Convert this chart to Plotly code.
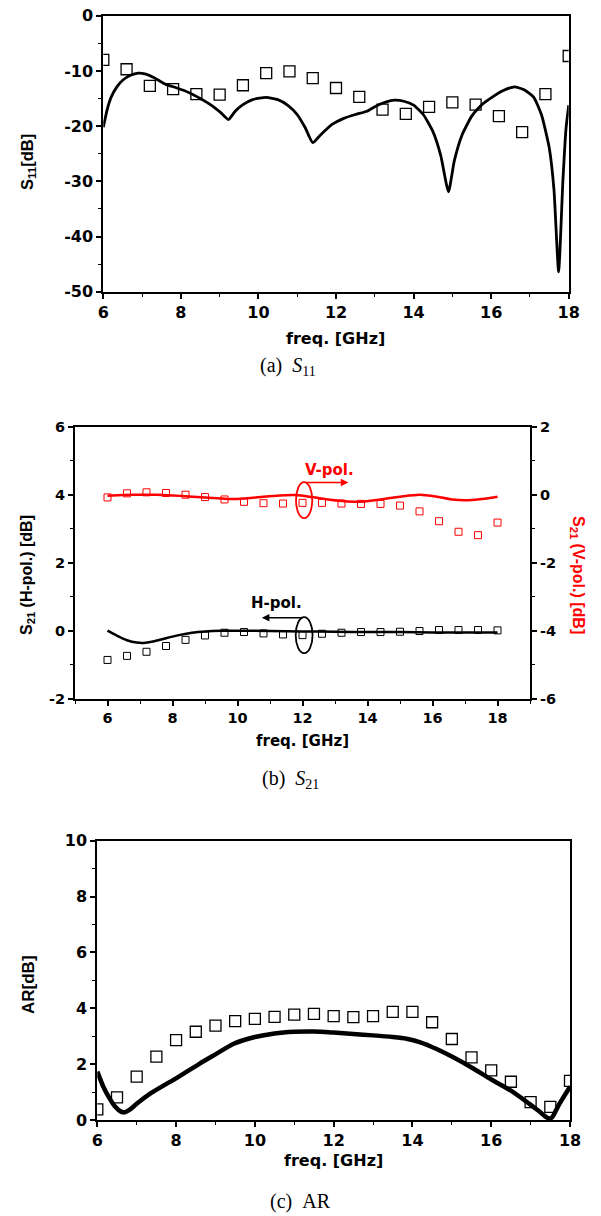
import plotly.graph_objects as go

# ---------------- (a) S11 ----------------
s11_sim_f = [6.0, 6.1, 6.2, 6.35, 6.5, 6.7, 6.9, 7.1, 7.3, 7.6, 7.9, 8.2, 8.5, 8.8, 9.05, 9.23,
             9.4, 9.6, 9.85, 10.2, 10.5, 10.75, 11.0, 11.2, 11.4, 11.6, 11.9, 12.2, 12.5, 12.8,
             13.05, 13.3, 13.5, 13.75, 14.0, 14.25, 14.5, 14.7, 14.9, 15.05, 15.25, 15.5, 15.75,
             16.0, 16.3, 16.6, 16.85, 17.1, 17.3, 17.5, 17.62, 17.74, 17.85, 17.93, 18.0]
s11_sim = [-20.2, -17.0, -14.8, -12.9, -11.7, -10.8, -10.4, -10.6, -11.2, -12.4, -13.1, -13.9,
           -15.0, -16.3, -17.7, -18.8, -17.3, -16.1, -15.2, -14.8, -15.2, -16.2, -17.9, -20.2,
           -23.0, -21.6, -19.7, -18.6, -17.9, -17.3, -16.3, -15.6, -15.3, -15.5, -16.2, -17.9,
           -21.0, -25.3, -31.9, -26.3, -21.6, -18.2, -16.2, -14.9, -13.6, -12.9, -13.4, -14.8,
           -18.0, -24.0, -31.5, -46.4, -30.0, -20.5, -16.2]
s11_meas_f = [6.0, 6.6, 7.2, 7.8, 8.4, 9.0, 9.6, 10.2, 10.8, 11.4, 12.0, 12.6, 13.2, 13.8, 14.4,
              15.0, 15.6, 16.2, 16.8, 17.4, 18.0]
s11_meas = [-8.0, -9.7, -12.7, -13.3, -14.2, -14.3, -12.6, -10.4, -10.1, -11.3, -13.1, -14.7,
            -17.0, -17.8, -16.5, -15.7, -16.1, -18.2, -21.1, -14.2, -7.3]
s11_yticks = [0, -10, -20, -30, -40, -50]
s11_ytick_text = ["0", "-10", "-20", "-30", "-40", "-50"]

# ---------------- (b) S21 ----------------
s21h_sim_f = [6.0, 6.3, 6.6, 6.9, 7.1, 7.4, 7.8, 8.2, 8.6, 9.0, 9.5, 10.0, 11.0, 12.0, 13.0,
              14.0, 15.0, 16.0, 17.0, 18.0]
s21h_sim = [0.0, -0.15, -0.28, -0.35, -0.36, -0.32, -0.22, -0.13, -0.06, -0.02, 0.0, 0.0,
            -0.01, -0.02, -0.03, -0.04, -0.04, -0.05, -0.05, -0.05]
s21_meas_f = [6.0, 6.6, 7.2, 7.8, 8.4, 9.0, 9.6, 10.2, 10.8, 11.4, 12.0, 12.6, 13.2, 13.8,
              14.4, 15.0, 15.6, 16.2, 16.8, 17.4, 18.0]
s21h_meas = [-0.86, -0.74, -0.62, -0.45, -0.27, -0.14, -0.06, -0.04, -0.08, -0.11, -0.13,
             -0.09, -0.06, -0.04, -0.04, -0.03, -0.01, 0.02, 0.02, 0.02, 0.01]
s21v_sim_f = [6.0, 6.5, 7.0, 7.5, 8.0, 8.5, 9.0, 9.5, 9.9, 10.4, 10.8, 11.3, 11.8, 12.3, 12.85,
              13.4, 13.9, 14.4, 15.0, 15.6, 16.1, 16.6, 17.1, 17.6, 18.0]
s21v_sim = [-0.03, -0.01, 0.0, 0.0, -0.02, -0.05, -0.08, -0.11, -0.13, -0.10, -0.06, -0.02,
            -0.01, -0.07, -0.15, -0.20, -0.20, -0.14, -0.06, 0.0, -0.05, -0.14, -0.16, -0.12,
            -0.06]
s21v_meas = [-0.08, 0.04, 0.07, 0.05, 0.0, -0.07, -0.14, -0.21, -0.25, -0.26, -0.24, -0.24,
             -0.26, -0.27, -0.27, -0.32, -0.49, -0.78, -1.09, -1.19, -0.82]
s21_left_ticks = [6, 4, 2, 0, -2]
s21_left_text = ["6", "4", "2", "0", "-2"]
s21_right_ticks = [2, 0, -2, -4, -6]
s21_right_text = ["2", "0", "-2", "-4", "-6"]

# ---------------- (c) AR ----------------
ar_sim_f = [6.0, 6.15, 6.3, 6.45, 6.6, 6.7, 6.85, 7.0, 7.35, 7.7, 8.0, 8.6, 9.0, 9.45, 10.0,
            10.5, 11.0, 11.5, 12.0, 12.5, 13.0, 13.5, 13.85, 14.2, 14.6, 15.0, 15.5, 16.0,
            16.5, 16.9, 17.2, 17.45, 17.55, 17.7, 18.0]
ar_sim = [1.73, 1.2, 0.8, 0.48, 0.3, 0.28, 0.4, 0.58, 0.95, 1.25, 1.49, 2.02, 2.35, 2.72, 2.97,
          3.10, 3.16, 3.17, 3.13, 3.08, 3.03, 2.97, 2.91, 2.78, 2.55, 2.27, 1.88, 1.45, 1.05,
          0.65, 0.33, 0.06, 0.1, 0.5, 1.19]
ar_meas_f = [6.0, 6.5, 7.0, 7.5, 8.0, 8.5, 9.0, 9.5, 10.0, 10.5, 11.0, 11.5, 12.0, 12.5, 13.0,
             13.5, 14.0, 14.5, 15.0, 15.5, 16.0, 16.5, 17.0, 17.5, 18.0]
ar_meas = [0.38, 0.81, 1.55, 2.27, 2.86, 3.16, 3.38, 3.54, 3.62, 3.69, 3.77, 3.80, 3.72, 3.68,
           3.72, 3.87, 3.87, 3.50, 2.90, 2.24, 1.78, 1.37, 0.64, 0.47, 1.40]
ar_yticks = [0, 2, 4, 6, 8, 10]
ar_ytick_text = ["0", "2", "4", "6", "8", "10"]

freq_ticks = [6, 8, 10, 12, 14, 16, 18]
freq_tick_text = ["6", "8", "10", "12", "14", "16", "18"]

W, H = 601, 1216
RED = "#ff0000"
TICKFONT = dict(family="DejaVu Sans", size=16, color="black")
TICKFONT_B = dict(family="DejaVu Sans", size=14.5, color="black")


def bold(lst):
    return ["<b>%s</b>" % s for s in lst]


def px_x(p):
    return p / W


def px_y(p):
    return 1 - p / H


fig = go.Figure()

fig.add_trace(go.Scatter(x=s11_sim_f, y=s11_sim, mode="lines", xaxis="x", yaxis="y",
                         line=dict(color="black", width=2.8, shape="spline", smoothing=0.5)))
fig.add_trace(go.Scatter(x=s11_meas_f, y=s11_meas, mode="markers", xaxis="x", yaxis="y",
                         marker=dict(symbol="square-open", size=11, color="black",
                                     line=dict(width=1.3))))

fig.add_trace(go.Scatter(x=s21h_sim_f, y=s21h_sim, mode="lines", xaxis="x2", yaxis="y2",
                         line=dict(color="black", width=2.5, shape="spline", smoothing=0.8)))
fig.add_trace(go.Scatter(x=s21_meas_f, y=s21h_meas, mode="markers", xaxis="x2", yaxis="y2",
                         marker=dict(symbol="square-open", size=7, color="black",
                                     line=dict(width=1))))
fig.add_trace(go.Scatter(x=s21v_sim_f, y=s21v_sim, mode="lines", xaxis="x2", yaxis="y3",
                         line=dict(color=RED, width=2.5, shape="spline", smoothing=0.8)))
fig.add_trace(go.Scatter(x=s21_meas_f, y=s21v_meas, mode="markers", xaxis="x2", yaxis="y3",
                         marker=dict(symbol="square-open", size=7, color=RED,
                                     line=dict(width=1))))

fig.add_trace(go.Scatter(x=ar_sim_f, y=ar_sim, mode="lines", xaxis="x3", yaxis="y4",
                         line=dict(color="black", width=4.5, shape="spline", smoothing=0.6)))
fig.add_trace(go.Scatter(x=ar_meas_f, y=ar_meas, mode="markers", xaxis="x3", yaxis="y4",
                         marker=dict(symbol="square-open", size=11, color="black",
                                     line=dict(width=1.3))))

common = dict(showgrid=False, zeroline=False, showline=True, linecolor="black", linewidth=2,
              ticks="outside", tickcolor="black", tickwidth=1.5, ticklen=5, automargin=False,
              tickmode="array")
minor = lambda d: dict(dtick=d, ticks="outside", ticklen=3, tickcolor="black", tickwidth=1.2)

fig.update_layout(
    width=W, height=H, autosize=False, showlegend=False,
    paper_bgcolor="white", plot_bgcolor="white",
    margin=dict(l=0, r=0, t=0, b=0, pad=0),
    xaxis=dict(domain=[px_x(103.3), px_x(568.7)], anchor="y", range=[6, 18],
               tickvals=freq_ticks, ticktext=bold(freq_tick_text),
               minor=minor(1), mirror=True, tickfont=TICKFONT, **common),
    yaxis=dict(domain=[px_y(291.7), px_y(15.7)], anchor="x", range=[-50, 0],
               tickvals=s11_yticks, ticktext=bold(s11_ytick_text),
               minor=minor(5), mirror=True, tickfont=TICKFONT, **common),
    xaxis2=dict(domain=[px_x(75), px_x(530)], anchor="y2", range=[5, 19],
                tickvals=freq_ticks, ticktext=bold(freq_tick_text),
                minor=minor(1), mirror=True, tickfont=TICKFONT_B, **common),
    yaxis2=dict(domain=[px_y(698.7), px_y(426.7)], anchor="x2", range=[-2, 6],
                tickvals=s21_left_ticks, ticktext=bold(s21_left_text),
                minor=minor(1), tickfont=TICKFONT_B, **common),
    yaxis3=dict(overlaying="y2", side="right", anchor="x2", range=[-6, 2],
                tickvals=s21_right_ticks, ticktext=bold(s21_right_text),
                minor=minor(1), tickfont=TICKFONT_B, **common),
    xaxis4=dict(overlaying="x2", side="top", anchor="y2", range=[5, 19], dtick=1,
                showticklabels=False, showline=False, showgrid=False, zeroline=False,
                ticks="inside", ticklen=5, tickwidth=1.5, tickcolor="black", automargin=False),
    xaxis3=dict(domain=[px_x(97.3), px_x(570)], anchor="y4", range=[6, 18],
                tickvals=freq_ticks, ticktext=bold(freq_tick_text),
                minor=minor(1), mirror=True, tickfont=TICKFONT, **common),
    yaxis4=dict(domain=[px_y(1120), px_y(840.7)], anchor="x3", range=[0, 10],
                tickvals=ar_yticks, ticktext=bold(ar_ytick_text),
                minor=minor(1), mirror=True, tickfont=TICKFONT, **common),
)

BOLD = dict(family="DejaVu Sans", size=16, color="black")
ROT = dict(family="Liberation Sans", size=16.5, color="black")
CAP = dict(family="Liberation Serif", size=20, color="black")

ann = []


def text(x, y, t, font, angle=0):
    ann.append(dict(x=px_x(x), y=px_y(y), xref="paper", yref="paper", text=t, showarrow=False,
                    font=font, textangle=angle, xanchor="center", yanchor="middle"))


# axis titles
text(336, 338, "<b>freq. [GHz]</b>", BOLD)
text(302.5, 741, "<b>freq. [GHz]</b>", dict(BOLD, size=15))
text(334, 1160, "<b>freq. [GHz]</b>", BOLD)
text(28, 162, "<b>S<sub>11</sub>[dB]</b>", ROT, -90)
text(27, 575, "<b>S<sub>21</sub> (H-pol.) [dB]</b>", dict(ROT, size=16), -90)
text(578, 575, "<b>S<sub>21</sub> (V-pol.) [dB]</b>", dict(ROT, size=16, color=RED), 90)
text(28, 985, "<b>AR[dB]</b>", dict(ROT, size=17), -90)
# captions
text(288, 366, "(a)&nbsp;&nbsp;<i>S</i><sub>11</sub>", CAP)
text(290, 779, "(b)&nbsp;&nbsp;<i>S</i><sub>21</sub>", CAP)
text(300, 1201, "(c)&nbsp;&nbsp;AR", CAP)

# polarisation labels (data coordinates of panel b)
ann.append(dict(x=12.83, y=4.73, xref="x2", yref="y2", text="<b>V-pol.</b>", showarrow=False,
                font=dict(family="DejaVu Sans", size=15, color=RED)))
ann.append(dict(x=11.19, y=0.81, xref="x2", yref="y2", text="<b>H-pol.</b>", showarrow=False,
                font=dict(family="DejaVu Sans", size=15, color="black")))
ann.append(dict(x=13.41, y=4.36, ax=12.05, ay=4.36, xref="x2", yref="y2", axref="x2",
                ayref="y2", text="", showarrow=True, arrowhead=2, arrowsize=1, arrowwidth=1.5,
                arrowcolor=RED))
ann.append(dict(x=10.75, y=0.38, ax=12.05, ay=0.38, xref="x2", yref="y2", axref="x2",
                ayref="y2", text="", showarrow=True, arrowhead=2, arrowsize=1, arrowwidth=1.5,
                arrowcolor="black"))

fig.update_layout(
    annotations=ann,
    shapes=[
        dict(type="circle", xref="x2", yref="y2", x0=11.8, x1=12.3, y0=3.31, y1=4.37,
             line=dict(color=RED, width=1.8)),
        dict(type="circle", xref="x2", yref="y2", x0=11.79, x1=12.31, y0=-0.66, y1=0.40,
             line=dict(color="black", width=1.8)),
    ],
)

fig.write_html("out.html", config={"displayModeBar": False},
               post_script="document.body.style.margin='0';document.body.style.padding='0';")
